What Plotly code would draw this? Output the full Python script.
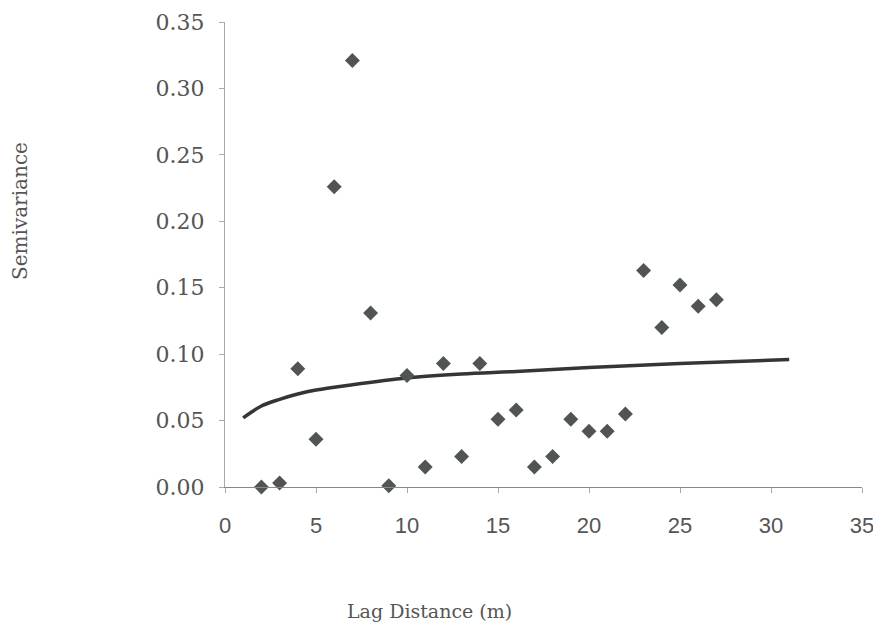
import plotly.graph_objects as go

# Observed semivariance by lag
lag = [2, 3, 4, 5, 6, 7, 8, 9, 10, 11, 12, 13, 14, 15, 16, 17, 18, 19, 20, 21, 22, 23, 24, 25, 26, 27]
semivar = [0.000, 0.003, 0.089, 0.036, 0.226, 0.321, 0.131, 0.001, 0.084, 0.015, 0.093, 0.023, 0.093,
           0.051, 0.058, 0.015, 0.023, 0.051, 0.042, 0.042, 0.055, 0.163, 0.120, 0.152, 0.136, 0.141]

# Fitted model curve
model_lag = [1, 2, 3, 4, 5, 7, 10, 13, 16, 20, 25, 31]
model_val = [0.052, 0.061, 0.066, 0.070, 0.073, 0.077, 0.082, 0.085, 0.087, 0.090, 0.093, 0.096]

x_ticks = [0, 5, 10, 15, 20, 25, 30, 35]
y_ticks = [0.00, 0.05, 0.10, 0.15, 0.20, 0.25, 0.30, 0.35]

# figure size accounts for the page's 8px body margin
W, H = 873, 628
L, R, T, B = 217, 19, 14, 149
pw, ph = W - L - R, H - T - B

fig = go.Figure()
fig.add_trace(go.Scatter(
    x=model_lag, y=model_val, mode="lines",
    line=dict(color="#333638", width=3.5, shape="spline"),
    showlegend=False, hoverinfo="skip"))
fig.add_trace(go.Scatter(
    x=lag, y=semivar, mode="markers",
    marker=dict(symbol="diamond", size=11.5, color="#505553",
                line=dict(width=0)),
    showlegend=False, cliponaxis=False))

fig.update_layout(
    width=W, height=H,
    margin=dict(l=L, r=R, t=T, b=B, autoexpand=False),
    paper_bgcolor="white", plot_bgcolor="white",
    xaxis=dict(range=[0, 35], tickvals=x_ticks, ticktext=[str(v) for v in x_ticks],
               showgrid=False, zeroline=False, showline=True, linecolor="#888",
               linewidth=1, ticks="outside", ticklen=5, tickcolor="#aaa",
               ticklabelstandoff=14, automargin=False,
               tickfont=dict(family="Liberation Sans", size=22, color="#555")),
    yaxis=dict(range=[0, 0.35], tickvals=y_ticks, ticktext=[f"{v:.2f}" for v in y_ticks],
               showgrid=False, zeroline=False, showline=True, linecolor="#aaa",
               linewidth=1, ticks="outside", ticklen=5, tickcolor="#aaa",
               ticklabelstandoff=10, automargin=False,
               tickfont=dict(family="DejaVu Serif", size=22, color="#555")),
    annotations=[
        dict(text="Lag Distance (m)", xref="paper", yref="paper", x=(421 - L) / pw,
             y=-(603 - (H - B)) / ph, xanchor="center", yanchor="middle", showarrow=False,
             font=dict(family="DejaVu Serif", size=19, color="#555")),
        dict(text="Semivariance", xref="paper", yref="paper", x=-(L - 12) / pw,
             y=((H - B) - 203) / ph, xanchor="center", yanchor="middle", showarrow=False,
             textangle=-90, font=dict(family="DejaVu Serif", size=20, color="#555")),
    ],
)

fig.write_html("out.html")
